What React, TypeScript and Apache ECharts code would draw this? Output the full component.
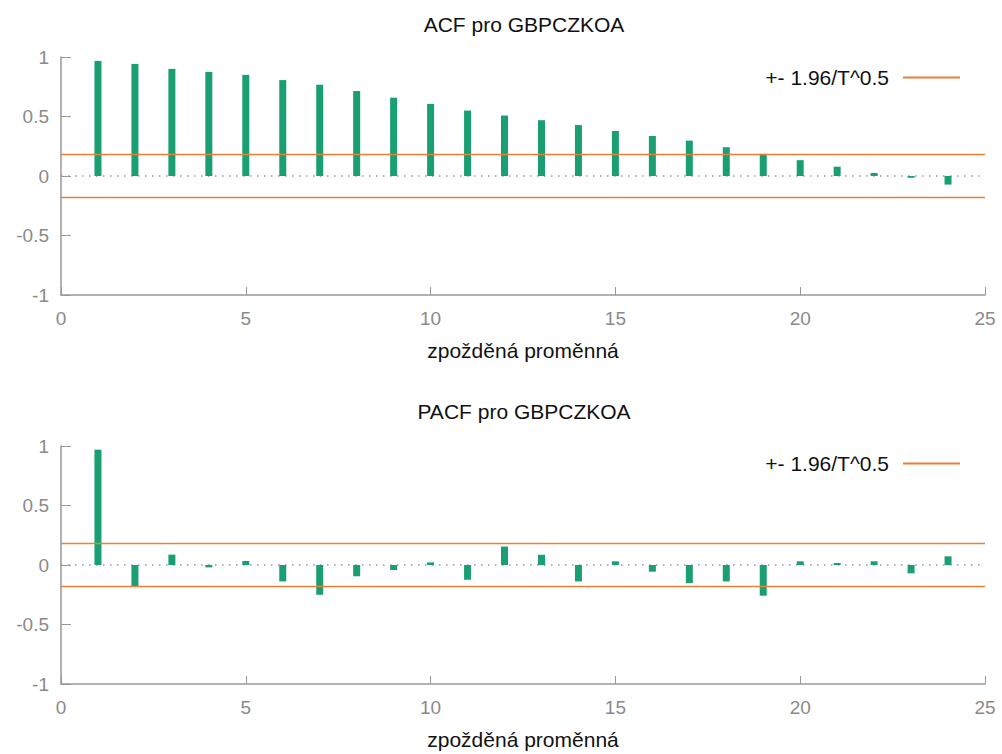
import React, { useEffect, useRef } from "react";
import * as echarts from "echarts";

const lags = [1, 2, 3, 4, 5, 6, 7, 8, 9, 10, 11, 12, 13, 14, 15, 16, 17, 18, 19, 20, 21, 22, 23, 24];
const acf = [0.967, 0.942, 0.9, 0.875, 0.85, 0.806, 0.767, 0.714, 0.658, 0.606, 0.55, 0.508, 0.469, 0.428, 0.378, 0.336, 0.297, 0.242, 0.186, 0.133, 0.078, 0.025, -0.015, -0.072];
const pacf = [0.969, -0.177, 0.087, -0.02, 0.034, -0.138, -0.25, -0.095, -0.042, 0.022, -0.124, 0.155, 0.086, -0.138, 0.031, -0.056, -0.152, -0.138, -0.258, 0.031, 0.017, 0.031, -0.07, 0.073];
const band = 0.18;
const xRange = [0, 25];
const titles = ["ACF pro GBPCZKOA", "PACF pro GBPCZKOA"];
const bandName = "+- 1.96/T^0.5";
const xName = "zpožděná proměnná";

const GREEN = "#1a9e74";
const ORANGE = "#ec7f34";
const FONT = "Liberation Sans";

export default function App() {
  const ref = useRef<HTMLDivElement>(null);
  useEffect(() => {
    document.body.style.margin = "0";
    const chart = echarts.init(ref.current!, null, { renderer: "svg" });
    const gridTops = [57, 446];
    const grids = gridTops.map((t) => ({ left: 61, right: 17, top: t, height: 238 }));
    const xAxes = gridTops.map((_, i) => ({
      type: "value",
      gridIndex: i,
      min: xRange[0],
      max: xRange[1],
      interval: 5,
      name: xName,
      nameLocation: "middle",
      nameGap: 45,
      nameTextStyle: { color: "#111", fontSize: 21, fontFamily: FONT },
      axisLine: { onZero: false, lineStyle: { color: "#999", width: 1.5 } },
      axisTick: { inside: true, length: 8, lineStyle: { color: "#999" } },
      axisLabel: { color: "#8a8a8a", fontSize: 19, fontFamily: FONT, margin: 14 },
      splitLine: { show: false },
    }));
    const yAxes = gridTops.map((_, i) => ({
      type: "value",
      gridIndex: i,
      min: -1,
      max: 1,
      interval: 0.5,
      axisLine: { show: true, onZero: false, lineStyle: { color: "#999", width: 1.5 } },
      axisTick: { show: true, inside: true, length: 10, lineStyle: { color: "#999" } },
      axisLabel: { color: "#8a8a8a", fontSize: 19, fontFamily: FONT, margin: 12 },
      splitLine: { show: false },
    }));
    const series: any[] = [];
    [acf, pacf].forEach((vals, i) => {
      series.push({
        type: "line",
        xAxisIndex: i,
        yAxisIndex: i,
        data: [[xRange[0], 0], [xRange[1], 0]],
        symbol: "none",
        silent: true,
        lineStyle: { color: "#999", width: 1.5, type: [1.5, 5.5] },
        z: 1,
      });
      series.push({
        type: "bar",
        name: "bars" + i,
        xAxisIndex: i,
        yAxisIndex: i,
        barWidth: 7,
        itemStyle: { color: GREEN },
        data: lags.map((l, k) => [l, vals[k]]),
        z: 2,
      });
      [band, -band].forEach((b) => {
        series.push({
          type: "line",
          name: bandName,
          xAxisIndex: i,
          yAxisIndex: i,
          data: [[xRange[0], b], [xRange[1], b]],
          symbol: "none",
          color: ORANGE,
          lineStyle: { color: ORANGE, width: 1.5 },
          z: 3,
        });
      });
    });
    chart.setOption({
      animation: false,
      backgroundColor: "#fff",
      title: [
        { text: titles[0], left: 524, top: 14, textAlign: "center", padding: 0, textStyle: { fontSize: 21, fontWeight: "normal", color: "#111", fontFamily: FONT } },
        { text: titles[1], left: 524, top: 401, textAlign: "center", padding: 0, textStyle: { fontSize: 21, fontWeight: "normal", color: "#111", fontFamily: FONT } },
      ],
      legend: [
        { data: [{ name: bandName, icon: "rect" }], right: 42, top: 67, align: "right", itemWidth: 57, itemHeight: 2, padding: 0, selectedMode: false, textStyle: { fontSize: 21, color: "#111", fontFamily: FONT, padding: [0, 9, 0, 0] } },
        { data: [{ name: bandName, icon: "rect" }], right: 42, top: 453, align: "right", itemWidth: 57, itemHeight: 2, padding: 0, selectedMode: false, textStyle: { fontSize: 21, color: "#111", fontFamily: FONT, padding: [0, 9, 0, 0] } },
      ],
      grid: grids,
      xAxis: xAxes,
      yAxis: yAxes,
      series,
    });
    return () => chart.dispose();
  }, []);
  return <div ref={ref} style={{ width: 1002, height: 754 }} />;
}
